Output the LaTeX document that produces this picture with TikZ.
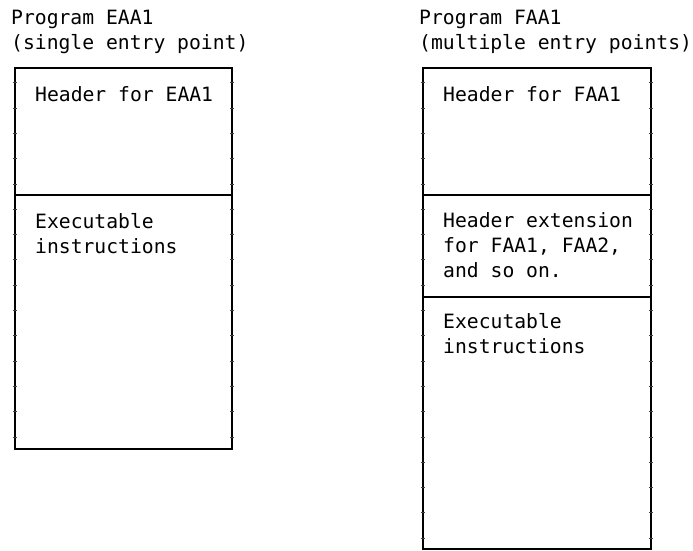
\documentclass[tikz,border=0pt]{standalone}
\usepackage{fontspec}
\setmonofont{DejaVu Sans Mono}
\begin{document}
\begin{tikzpicture}[x=1pt,y=-1pt,
  lbl/.style={anchor=base west,inner sep=0pt,align=left,font=\ttfamily\fontsize{19.7}{25}\selectfont},
  frame/.style={draw=black,line width=1.3pt},
  tick/.style={draw=black!75,line width=0.8pt}]
\useasboundingbox (0,0) rectangle (693,551);
% left program
\coordinate (e1) at (15,68);
\coordinate (e2) at (232,449);
\draw[frame] (e1) rectangle (e2);
\draw[frame] (15,195) -- (232,195);
\foreach \y in {82.7,108,...,440}{
  \draw[tick] (13,\y) -- (17,\y);
  \draw[tick] (230,\y) -- (234,\y);
}
% (anchor = baseline of the last line)
\node[lbl] (te) at (11,50) {Program EAA1\\(single entry point)};
\node[lbl] (he) at (35,101) {Header for EAA1};
\node[lbl] (xe) at (35,253) {Executable\\instructions};
% right program
\coordinate (f1) at (423,68);
\coordinate (f2) at (651,549);
\draw[frame] (f1) rectangle (f2);
\draw[frame] (423,195) -- (651,195);
\draw[frame] (423,297) -- (651,297);
\foreach \y in {82.7,108,...,545}{
  \draw[tick] (421,\y) -- (425,\y);
  \draw[tick] (649,\y) -- (653,\y);
}
\node[lbl] (tf) at (419,50) {Program FAA1\\(multiple entry points)};
\node[lbl] (hf) at (443,101) {Header for FAA1};
\node[lbl] (hx) at (443,277) {Header extension\\for FAA1, FAA2,\\and so on.};
\node[lbl] (xf) at (443,353) {Executable\\instructions};
\end{tikzpicture}
\end{document}
